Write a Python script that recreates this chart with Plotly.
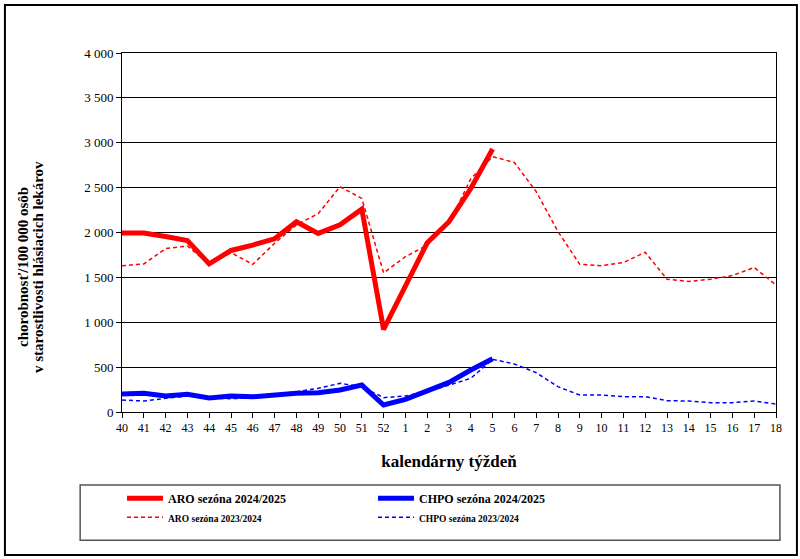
import plotly.graph_objects as go

weeks = ["40", "41", "42", "43", "44", "45", "46", "47", "48", "49", "50", "51", "52",
         "1", "2", "3", "4", "5", "6", "7", "8", "9", "10", "11", "12", "13", "14", "15",
         "16", "17", "18"]

aro_2425 = [1995, 1995, 1955, 1910, 1650, 1800, 1860, 1930, 2120, 1990, 2085, 2260, 920,
            1400, 1885, 2120, 2490, 2930]
aro_2324 = [1630, 1650, 1820, 1850, 1650, 1775, 1645, 1880, 2085, 2210, 2510, 2380, 1550,
            1730, 1860, 2100, 2600, 2845, 2780, 2455, 2010, 1645, 1630, 1665, 1780, 1480,
            1455, 1480, 1520, 1610, 1415]
chpo_2425 = [200, 208, 178, 197, 156, 178, 170, 193, 208, 215, 245, 300, 78,
             141, 237, 330, 468, 594]
chpo_2324 = [134, 122, 152, 178, 156, 148, 160, 189, 226, 264, 319, 282, 160,
             178, 226, 300, 375, 587, 535, 438, 282, 189, 189, 171, 171, 126, 122, 104,
             104, 122, 89]

yticks = [0, 500, 1000, 1500, 2000, 2500, 3000, 3500, 4000]

FONT = "Times New Roman, Liberation Serif, serif"
RED = "#FF0000"
BLUE = "#0000FF"
DASH = "4px,3px"

fig = go.Figure()
fig.add_trace(go.Scatter(x=weeks[:len(aro_2324)], y=aro_2324, mode="lines",
                         name="<span style='font-size:9.5px'><b>ARO sezóna 2023/2024</b></span>",
                         line=dict(color=RED, width=1.5, dash=DASH), legendrank=3))
fig.add_trace(go.Scatter(x=weeks[:len(chpo_2324)], y=chpo_2324, mode="lines",
                         name="<span style='font-size:9.5px'><b>CHPO sezóna 2023/2024</b></span>",
                         line=dict(color=BLUE, width=1.5, dash=DASH), legendrank=4))
fig.add_trace(go.Scatter(x=weeks[:len(aro_2425)], y=aro_2425, mode="lines",
                         name="<b>ARO sezóna 2024/2025</b>",
                         line=dict(color=RED, width=5), legendrank=1))
fig.add_trace(go.Scatter(x=weeks[:len(chpo_2425)], y=chpo_2425, mode="lines",
                         name="<b>CHPO sezóna 2024/2025</b>",
                         line=dict(color=BLUE, width=5), legendrank=2))

fig.update_layout(
    width=800, height=559,
    margin=dict(l=122, r=24, t=53, b=147),
    paper_bgcolor="white", plot_bgcolor="white",
    font=dict(family=FONT, size=12, color="black"),
    separators=", ",
    showlegend=True,
    legend=dict(orientation="h", x=0.0, y=-0.20, xanchor="left", yanchor="top",
                entrywidth=200, entrywidthmode="pixels",
                font=dict(family=FONT, size=12, color="black"),
                traceorder="normal", bgcolor="rgba(0,0,0,0)", itemwidth=36,
                tracegroupgap=0),
    xaxis=dict(type="category", categoryorder="array", categoryarray=weeks,
               range=[0, 30], showgrid=False, showline=True, linecolor="black",
               linewidth=1, mirror=True, ticks="outside", ticklen=5,
               tickcolor="black", tickfont=dict(family=FONT, size=12), tickangle=0,
               title=dict(text="<b>kalendárny týždeň</b>", font=dict(family=FONT, size=17),
                          standoff=20)),
    yaxis=dict(range=[0, 4000], tickvals=yticks, tickformat=",d",
               showgrid=True, gridcolor="black", gridwidth=1,
               showline=True, linecolor="black", linewidth=1, mirror=True,
               ticks="outside", ticklen=5, tickcolor="black", zeroline=False,
               tickfont=dict(family=FONT, size=13)),
    annotations=[
        dict(text="<b>chorobnosť/100 000 osôb</b>", xref="paper", yref="paper",
             x=-0.1514, y=0.404, textangle=-90, showarrow=False,
             xanchor="center", yanchor="middle", font=dict(family=FONT, size=15)),
        dict(text="<b>v starostlivosti hlásiacich lekárov</b>", xref="paper", yref="paper",
             x=-0.1284, y=0.404, textangle=-90, showarrow=False,
             xanchor="center", yanchor="middle", font=dict(family=FONT, size=15)),
    ],
    shapes=[
        dict(type="rect", xref="paper", yref="paper", x0=-0.179, x1=1.032, y0=-0.398, y1=1.134,
             line=dict(color="black", width=2), fillcolor="rgba(0,0,0,0)", layer="below"),
        dict(type="rect", xref="paper", yref="paper", x0=-0.064, x1=1.006, y0=-0.357, y1=-0.203,
             line=dict(color="#555555", width=1.5), fillcolor="rgba(0,0,0,0)", layer="below"),
    ],
)

fig.write_html("out.html", config={"displayModeBar": False},
               post_script="document.body.style.margin='0';")
